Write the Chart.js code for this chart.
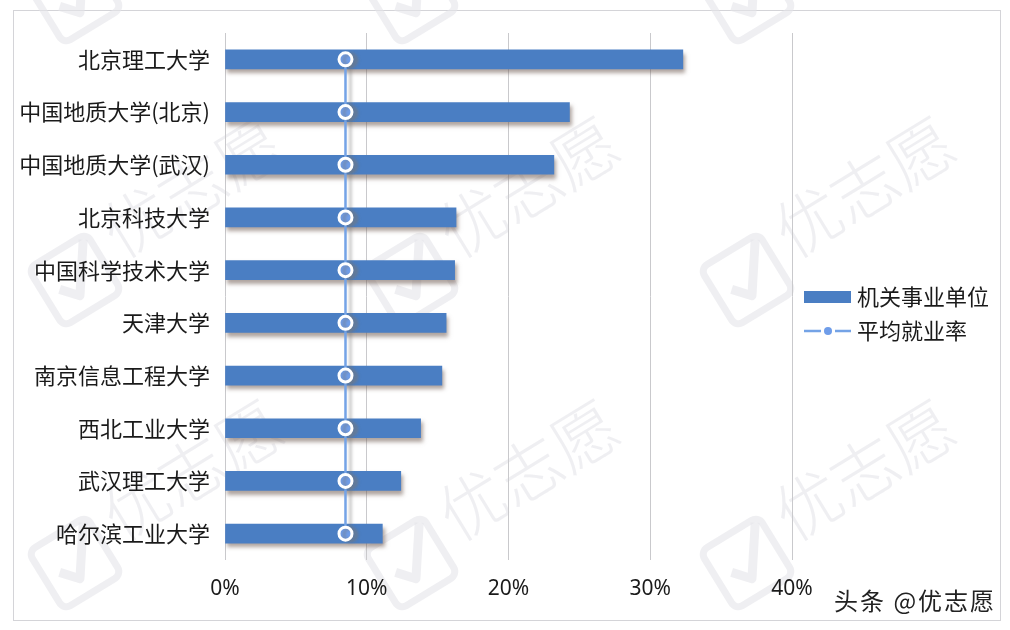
<!DOCTYPE html>
<html>
<head>
<meta charset="utf-8">
<script src="https://cdn.jsdelivr.net/npm/chart.js@4.4.1/dist/chart.umd.min.js"></script>
<style>
  html, body { margin: 0; padding: 0; background: #ffffff; }
  #wrap { width: 1010px; height: 630px; }
</style>
</head>
<body>
<div id="wrap"><canvas id="c" width="1010" height="630"></canvas></div>
<script>
// 高校毕业生进入机关事业单位的比例
const universities = [
  '北京理工大学', '中国地质大学(北京)', '中国地质大学(武汉)', '北京科技大学',
  '中国科学技术大学', '天津大学', '南京信息工程大学', '西北工业大学',
  '武汉理工大学', '哈尔滨工业大学'
];
const govShare = [32.3, 24.3, 23.2, 16.3, 16.2, 15.6, 15.3, 13.8, 12.4, 11.1];
const avgRate = [8.5, 8.5, 8.5, 8.5, 8.5, 8.5, 8.5, 8.5, 8.5, 8.5];
const xTicks = [0, 10, 20, 30, 40];
const seriesNames = ['机关事业单位', '平均就业率'];
const creditText = '头条 @优志愿';
const markText = '优志愿';

const BAR_BLUE = '#4a7ec3';
const LINE_BLUE = '#74a3e6';
const CJK = '"Noto Sans CJK SC", "Noto Sans", sans-serif';
const LATIN = '"Noto Sans", "Noto Sans CJK SC", sans-serif';

// white page, thin frame and faint brand marks behind the chart
const backdrop = {
  id: 'backdrop',
  beforeDraw(chart) {
    const ctx = chart.ctx;
    ctx.save();
    ctx.fillStyle = '#ffffff';
    ctx.fillRect(0, 0, chart.width, chart.height);
    ctx.strokeStyle = '#d4d4d8';
    ctx.lineWidth = 1;
    ctx.strokeRect(13.5, 10.5, 987, 610);

    const anchorsX = [141, 477, 813];
    const anchorsY = [-43, 240, 523];
    ctx.strokeStyle = 'rgba(228,228,234,0.6)';
    ctx.fillStyle = 'rgba(228,228,234,0.6)';
    for (const ax of anchorsX) {
      for (const ay of anchorsY) {
        // check box
        ctx.save();
        ctx.translate(ax - 66, ay + 40);
        ctx.rotate(-0.55);
        ctx.lineWidth = 7;
        ctx.lineJoin = 'round';
        ctx.beginPath();
        ctx.roundRect(-34, -34, 68, 68, 8);
        ctx.stroke();
        ctx.lineWidth = 9;
        ctx.beginPath();
        ctx.moveTo(-18, 0);
        ctx.lineTo(-4, 16);
        ctx.lineTo(28, -30);
        ctx.stroke();
        ctx.restore();
        // brand text
        ctx.save();
        ctx.translate(ax - 20, ay + 20);
        ctx.rotate(-0.55);
        ctx.font = '300 66px ' + CJK;
        ctx.textBaseline = 'alphabetic';
        ctx.fillText(markText, 0, 0);
        ctx.restore();
      }
    }
    ctx.restore();
  }
};

// soft drop shadows under bars and the average line
const shadows = {
  id: 'shadows',
  beforeDatasetDraw(chart, args) {
    const ctx = chart.ctx;
    ctx.save();
    if (args.meta.type === 'bar') {
      ctx.shadowColor = 'rgba(110,90,80,0.55)';
      ctx.shadowBlur = 4;
      ctx.shadowOffsetX = 2;
      ctx.shadowOffsetY = 4;
    } else {
      ctx.shadowColor = 'rgba(120,120,120,0.45)';
      ctx.shadowBlur = 3;
      ctx.shadowOffsetX = 5;
      ctx.shadowOffsetY = 1;
    }
  },
  afterDatasetDraw(chart) {
    chart.ctx.restore();
  }
};

// legend on the right and the credit line
const sideLegend = {
  id: 'sideLegend',
  afterDraw(chart) {
    const ctx = chart.ctx;
    const ds = chart.data.datasets;
    const barDs = ds.find(d => d.type === 'bar');
    const lineDs = ds.find(d => d.type === 'line');
    ctx.save();
    ctx.font = '22px ' + CJK;
    ctx.textBaseline = 'middle';
    ctx.textAlign = 'left';

    ctx.fillStyle = barDs.backgroundColor;
    ctx.fillRect(804, 291, 47, 12);
    ctx.fillStyle = '#1a1a1a';
    ctx.fillText(barDs.label, 857, 297);

    ctx.strokeStyle = lineDs.borderColor;
    ctx.lineWidth = 2.5;
    ctx.beginPath();
    ctx.moveTo(804, 331); ctx.lineTo(821, 331);
    ctx.moveTo(835, 331); ctx.lineTo(851, 331);
    ctx.stroke();
    ctx.fillStyle = lineDs.pointBackgroundColor;
    ctx.beginPath();
    ctx.arc(828, 331, 4, 0, Math.PI * 2);
    ctx.fill();
    ctx.fillStyle = '#1a1a1a';
    ctx.fillText(lineDs.label, 857, 331);

    ctx.font = '24px ' + CJK;
    ctx.letterSpacing = '2px';
    ctx.fillStyle = '#222222';
    ctx.fillText(creditText, 834, 601);
    ctx.restore();
  }
};

new Chart(document.getElementById('c'), {
  data: {
    labels: universities,
    datasets: [
      {
        type: 'line',
        label: seriesNames[1],
        data: avgRate,
        indexAxis: 'y',
        borderColor: LINE_BLUE,
        borderWidth: 2.5,
        pointRadius: 6.5,
        pointBackgroundColor: '#6f9de9',
        pointBorderColor: '#ffffff',
        pointBorderWidth: 3,
        fill: false,
        order: 0
      },
      {
        type: 'bar',
        label: seriesNames[0],
        data: govShare,
        backgroundColor: BAR_BLUE,
        borderWidth: 0,
        barThickness: 19,
        order: 1
      }
    ]
  },
  options: {
    indexAxis: 'y',
    responsive: false,
    devicePixelRatio: 1,
    animation: false,
    layout: { padding: { left: 0, top: 33, right: 218, bottom: 0 } },
    plugins: {
      legend: { display: false },
      tooltip: { enabled: false }
    },
    scales: {
      y: {
        type: 'category',
        offset: true,
        grid: { display: false, drawTicks: false },
        border: { display: false },
        ticks: {
          color: '#1a1a1a',
          font: { family: CJK, size: 22 },
          padding: 15
        },
        afterFit(scale) { scale.width = 225; }
      },
      x: {
        type: 'linear',
        position: 'bottom',
        min: xTicks[0],
        max: xTicks[xTicks.length - 1],
        afterBuildTicks(scale) { scale.ticks = xTicks.map(v => ({ value: v })); },
        grid: { color: '#c9c9cc', lineWidth: 1, drawTicks: false },
        border: { display: false },
        ticks: {
          color: '#1a1a1a',
          font: { family: LATIN, size: 21 },
          padding: 16,
          callback: v => v + '%'
        },
        afterFit(scale) { scale.height = 70; }
      }
    }
  },
  plugins: [backdrop, shadows, sideLegend]
});
</script>
</body>
</html>
